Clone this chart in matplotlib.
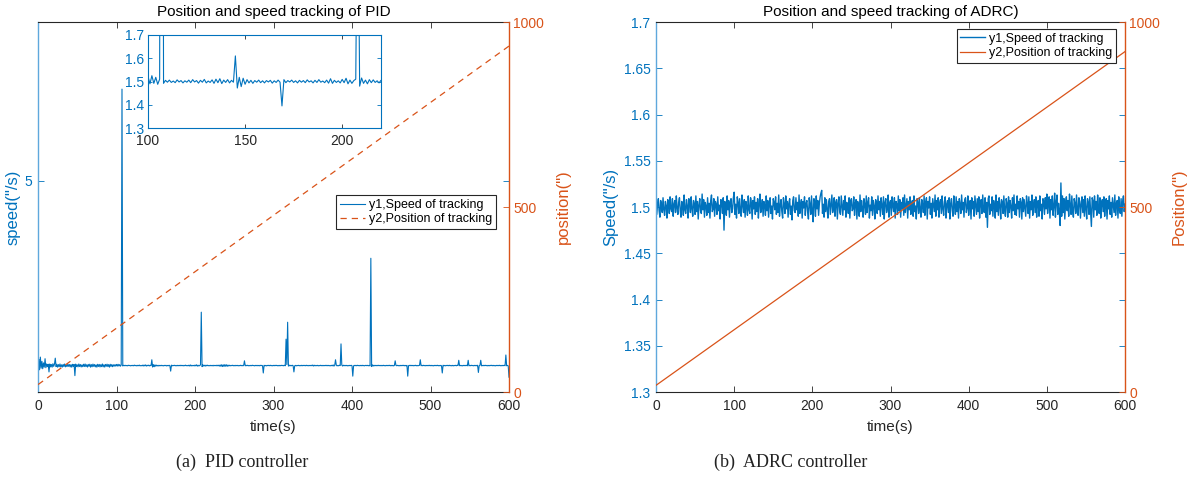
import numpy as np
import matplotlib
matplotlib.use('Agg')
import matplotlib.pyplot as plt

plt.rcParams['font.family'] = ['Liberation Sans', 'DejaVu Sans']

BLUE = '#0072BD'
BLUE_SPINE = '#5FA8DC'
ORANGE = '#D95319'
DARK = '#262626'

# ---------------- data ----------------
time_s = list(range(0, 601))  # 1 s sampling, 0..600 s

# PID speed: deviation from 1.5 "/s in thousandths, t = 0..600
pid_noise_milli = [
    60, 120, -80, 160, -50, 80, -60, 50, -30, 130, -40, 30, -20, 25, -30, 30, -25, 20, -30, 35,
    -15, 28, 20, -20, 25, -30, 18, -22, 30, -26, 15, -28, 22, -18, 30, -24, 12, -20, 26, -15,
    20, -25, 18, -30, 24, -16, 22, -20, 28, -20, 15, -24, 30, -18, 20, -26, 14, -22, 25, -18,
    30, -20, 16, -28, 22, -15, 26, -30, 18, -22, 28, -16, 20, -25, 14, -30, 24, -18, 22, -26,
    18, -20, 30, -24, 16, -28, 22, -14, 26, -20, 18, -30, 24, -16, 20, -22, 15, -12, 18, -10,
    22, -10, 25, -8, 18, -12, 10, 0, -8, 5, -3, 6, -4, 2, -5, 7, -2, 4, -6, 3,
    -3, 6, -5, 8, -2, 4, -7, 5, -3, 9, -6, 2, -4, 7, -8, 10, -5, 12, -9, 6,
    -4, 8, -6, 5, -3, 0, -28, 18, -22, 14, -12, 8, -6, 5, -8, 4, -3, 6, -5, 3,
    -6, 4, -2, 5, -7, 3, -4, 6, -3, 0, 8, -5, 4, -2, 6, -4, 3, -6, 5, -3,
    4, -5, 7, -2, 3, -6, 5, -4, 8, -3, 2, -5, 6, -7, 12, -8, 5, -4, 3, -6,
    9, -5, 14, -10, 6, -8, 4, 10, 0, -20, 15, -8, 6, -10, 8, -5, 7, -4, 3, -6,
    5, -3, 4, -7, 6, -2, 3, -5, 8, -4, 6, -10, 12, -14, 16, -18, 14, -16, 18, -12,
    15, -14, 10, -8, 6, -5, 4, -3, 7, -4, 3, -6, 5, -2, 4, -6, 3, -4, 6, -3,
    4, -5, 3, 0, -4, 5, -3, 6, -4, 2, -5, 4, -3, 7, -2, 3, -6, 4, -3, 5,
    -4, 3, -5, 6, -2, 4, -3, 0, 5, -4, 3, -6, 4, -2, 5, -3, 6, -4, 3, -5,
    4, -3, 6, -2, 5, -4, 3, -6, 4, -3, 5, -2, 4, -5, 6, -3, 0, 20, 0, -10,
    8, -6, 5, -4, 6, -3, 0, -5, 4, -6, 3, -2, 5, -4, 3, -5, 6, -3, 4, -2,
    5, -4, 6, -3, 4, -5, 3, -2, 6, -4, 10, -8, 6, -5, 4, -3, 5, -6, 3, -4,
    6, -3, 4, -5, 3, -2, 5, -4, 6, -3, 4, -5, 3, -6, 5, -4, 12, -10, 6, 0,
    8, -6, 4, -5, 6, 0, -14, 10, -8, 6, -4, 5, -3, 4, -6, 3, -5, 4, -2, 5,
    -3, 0, -6, 4, -3, 5, -4, 6, -2, 3, -5, 4, -3, 6, -4, 3, -5, 2, 4, -3,
    5, -4, 3, -6, 0, -18, 12, -8, 6, -5, 4, -3, 5, -4, 6, -2, 3, -5, 4, -3,
    6, -4, 3, -5, 4, -2, 5, -3, 6, -4, 3, -5, 4, -6, 3, 0, 4, -3, 5, -4,
    3, -6, 4, -2, 5, -3, 6, -4, 3, -5, 4, 0, -3, 5, -4, 6, -2, 3, -5, 4,
    -3, 6, -4, 3, -5, 2, 4, 0, -3, 5, -4, 6, -3, 4, -5, 3, -2, 5, -4, 6,
    -3, 4, -5, 3, -6, 4, -2, 5, -3, 6, -4, 3, -5, 4, -3, 0, 6, -4, 3, -5,
    4, -2, 5, -3, 6, -4, 3, -5, 4, -6, 3, -2, 5, -4, 6, 0, 0, -3, 4, -5,
    3, -6, 4, -2, 5, -3, 6, -4, 0, -5, 4, -3, 6, -2, 3, -5, 4, -3, 5, -4,
    6, 0, -3, 4, 0, -5, 3, -4, 6, -2, 5, -3, 4, -6, 3, -4, 5, -2, 6, -3,
    4, -5, 3, -6, 4, -2, 5, -3, 6, -4, 3, -5, 4, -2, 6, -3, 0, -4, 3, -5,
    0,
]
# PID speed spikes: time (s) and value ("/s)
pid_spike_t = [14, 22, 47, 107, 145, 169, 208, 263, 287, 316, 318, 326, 379, 386,
               401, 424, 455, 471, 487, 515, 536, 548, 561, 564, 596, 600]
pid_spike_v = [1.38, 1.64, 1.31, 6.73, 1.61, 1.395, 2.51, 1.59, 1.36, 2.00, 2.32, 1.38, 1.61, 1.91,
               1.30, 3.53, 1.59, 1.30, 1.61, 1.36, 1.60, 1.60, 1.37, 1.60, 1.70, 1.28]
# PID position (")
pid_pos_t = [0, 600]
pid_pos_v = [20, 935]

# ADRC speed: deviation from 1.5 "/s in thousandths, t = 0..600
adrc_noise_milli = [
    5, -8, 3, 9, -4, -11, 7, 2, -6, 10, -3, -9, 6, 1, -12, 8, 4, -7, 11, -2,
    -5, 9, -10, 3, 7, -6, 12, -1, -8, 5, 10, -4, -11, 6, 2, -9, 13, -3, -7, 8,
    1, -12, 9, 4, -6, 11, -2, -10, 7, 3, -8, 12, -5, 6, -13, 2, 9, -4, -7, 14,
    -3, 8, -11, 5, 1, -9, 10, -6, 4, -12, 7, 13, -5, -2, 9, -10, 6, 3, -8, 11,
    -4, 2, -13, 8, 5, -7, 10, -25, 6, 1, -9, 12, -3, 7, -11, 4, 9, -6, -2, 10,
    16, -8, 3, -12, 11, 5, -7, 9, -4, -10, 13, 2, -6, 8, -11, 6, 1, -9, 12, -3,
    -7, 10, 4, -13, 7, -2, 11, -8, 5, -5, 9, -12, 3, 14, -6, -1, 8, -10, 6, 2,
    -9, 12, -4, 7, -11, 3, 10, -7, 1, -13, 9, 5, -3, 11, -8, 4, -6, 13, -10, 2,
    8, -5, -12, 10, 3, -7, 12, -2, 6, -11, 4, 9, -8, 1, -14, 7, 11, -4, -6, 10,
    -3, 5, -10, 13, -7, 2, 8, -12, 6, -1, 11, -9, 4, 7, -5, -13, 10, 3, -8, 12,
    -4, -16, 9, 6, -10, 12, -2, 7, -9, 4, 11, 15, 18, -7, 3, -11, 10, -5, 8, -3,
    -12, 6, 9, -8, 2, 13, -6, -1, 10, -10, 5, 8, -13, 4, 11, -5, -8, 12, 1, -9,
    7, -3, 12, -11, 5, 3, -7, 10, -12, 6, 9, -4, -2, 11, -9, 4, 8, -13, 6, 2,
    -10, 13, -5, 7, -1, -11, 9, 3, -8, 12, -6, 5, 10, -12, 2, -4, 11, -9, 7, 1,
    -13, 8, 4, -7, 12, -3, 6, -10, 10, 2, -8, 11, -13, 5, 9, -6, -2, 13, -11, 4,
    7, -9, 11, 1, -5, 10, -12, 6, 3, -8, 12, -4, 8, -11, 5, -2, 10, -9, 13, -6,
    2, 9, -12, 6, -3, 11, -8, 4, 7, -10, 12, -5, 1, -13, 9, 5, -7, 10, -2, -11,
    8, 3, -6, 12, -9, 5, 10, -13, 6, -1, 11, -8, 4, -12, 9, 2, -5, 13, -10, 7,
    -3, 10, -11, 5, 8, -7, 12, -2, -9, 6, 11, -12, 3, 7, -6, 10, -13, 4, 9, -4,
    -10, 12, 1, -8, 11, -5, 6, -12, 9, 3, -7, 13, -3, 5, -11, 8, 10, -6, -1, 12,
    -9, 4, 7, -13, 10, -2, 6, -10, 12, 2, -8, 9, -5, 11, -12, 4, 8, -7, 13, -3,
    -6, 10, -11, 5, -22, 9, 12, -8, 3, -4, 11, -10, 7, 1, -12, 13, -5, 6, -9, 10,
    2, -13, 8, 5, -7, 12, -3, -10, 9, 4, -11, 11, -6, 7, 1, -12, 10, -4, 13, -8,
    3, -9, 12, -2, 6, -11, 9, 5, -13, 10, -5, 8, -1, -10, 12, 4, -7, 11, -12, 6,
    -3, 13, -9, 2, 8, -6, 11, -11, 5, 7, -10, 12, -4, 3, -13, 9, 6, -8, 10, -2,
    14, -7, 4, 11, -12, 8, -3, 12, -9, 1, 15, -11, 6, 13, -8, 4, -5, -20, 26, -10,
    12, -6, 9, -13, 5, 11, -4, 7, -10, 14, 2, -8, 12, -5, -11, 9, 4, -7, 13, -3,
    -9, 10, 6, -12, 3, 11, -6, 8, -10, 12, -2, -13, 9, 5, -8, 11, -4, -21, 10, 7,
    -11, 12, -3, 6, -9, 13, 1, -7, 10, -12, 4, 8, -5, 11, -10, 3, 9, -13, 7, -2,
    12, -8, 5, -11, 10, 2, -6, 13, -9, 4, 7, -12, 11, -3, -7, 9, -10, 6, 12, -5,
    3,
]
adrc_pos_t = [0, 600]
adrc_pos_v = [18, 920]

x_ticks = [0, 100, 200, 300, 400, 500, 600]
pid_speed_ticks = [5]
pos_ticks = [0, 500, 1000]
adrc_speed_ticks = [1.3, 1.35, 1.4, 1.45, 1.5, 1.55, 1.6, 1.65, 1.7]
adrc_speed_ticklabels = ['1.3', '1.35', '1.4', '1.45', '1.5', '1.55', '1.6', '1.65', '1.7']
inset_yticks = [1.3, 1.4, 1.5, 1.6, 1.7]
inset_xticks = [100, 150, 200]

# ---------------- build series ----------------
t = np.array(time_s, dtype=float)
pid_speed = 1.5 + np.array(pid_noise_milli, dtype=float) / 1000.0
for ts, vs in zip(pid_spike_t, pid_spike_v):
    pid_speed[ts] = vs
adrc_speed = 1.5 + np.array(adrc_noise_milli, dtype=float) / 1000.0

# ---------------- figure ----------------
fig = plt.figure(figsize=(11.93, 4.78), dpi=100)
axL = fig.add_axes([38 / 1193, 1 - 392 / 478, 471 / 1193, 370 / 478])
axR = fig.add_axes([656 / 1193, 1 - 392 / 478, 469 / 1193, 370 / 478])

TICK_FS = 10
LABEL_FS = 11
YLABEL_FS = 12


def style_main(ax, ax2, ylim, yticks, yticklabels, ylabel, ylabel2, ylx, y2lx, title):
    ax.set_xlim(0, 600)
    ax.set_ylim(*ylim)
    ax.set_xticks(x_ticks)
    ax.set_yticks(yticks)
    ax.set_yticklabels(yticklabels)
    ax.tick_params(axis='x', direction='in', top=True, bottom=True, length=4, width=0.6,
                   color=DARK, labelcolor=DARK, labelsize=TICK_FS, pad=5)
    ax.tick_params(axis='y', direction='in', left=True, right=True, labelright=False,
                   length=4, width=0.6, color=BLUE, labelcolor=BLUE, labelsize=TICK_FS, pad=4)
    for s in ('top', 'bottom'):
        ax.spines[s].set_color(DARK)
        ax.spines[s].set_linewidth(0.8)
    ax.spines['left'].set_color(BLUE_SPINE)
    ax.spines['left'].set_linewidth(1.0)
    ax.spines['right'].set_visible(False)
    ax.set_ylabel(ylabel, color=BLUE, fontsize=YLABEL_FS)
    ax.yaxis.set_label_coords(ylx, 0.5)
    ax.set_xlabel('time(s)', color=DARK, fontsize=LABEL_FS)
    ax.xaxis.set_label_coords(0.5, -0.075)
    ax.set_title(title, fontsize=LABEL_FS, color='black', pad=4)

    ax2.set_ylim(0, 1000)
    ax2.set_yticks(pos_ticks)
    ax2.tick_params(axis='y', direction='in', right=True, left=False, length=4, width=0.6,
                    color=ORANGE, labelcolor=ORANGE, labelsize=TICK_FS, pad=3)
    for s in ('left', 'top', 'bottom'):
        ax2.spines[s].set_visible(False)
    ax2.spines['right'].set_color(ORANGE)
    ax2.spines['right'].set_linewidth(1.0)
    ax2.set_ylabel(ylabel2, color=ORANGE, fontsize=YLABEL_FS, rotation=90)
    ax2.yaxis.set_label_coords(y2lx, 0.5)


# ---- PID panel ----
axL2 = axL.twinx()
hL1, = axL.plot(t, pid_speed, color=BLUE, lw=0.8)
hL2, = axL2.plot(pid_pos_t, pid_pos_v, color=ORANGE, lw=0.9, linestyle=(0, (5, 4)))
style_main(axL, axL2, (1, 8), pid_speed_ticks, ['5'], 'speed("/s)', 'position(")',
           -0.036, 1.10, 'Position and speed tracking of PID')
legL = axL2.legend([hL1, hL2], ['y1,Speed of tracking', 'y2,Position of tracking'],
                   loc='upper right', bbox_to_anchor=(0.972, 0.532), borderaxespad=0,
                   fontsize=9, fancybox=False, framealpha=1, edgecolor=DARK,
                   borderpad=0.3, labelspacing=0.2, handlelength=2.0, handletextpad=0.3)
legL.get_frame().set_linewidth(0.8)

# inset
axI = fig.add_axes([148 / 1193, 1 - 128 / 478, 233 / 1193, 93 / 478])
axI.plot(t, pid_speed, color=BLUE, lw=0.8)
axI.set_xlim(100, 220)
axI.set_ylim(1.3, 1.7)
axI.set_xticks(inset_xticks)
axI.set_yticks(inset_yticks)
axI.set_yticklabels(['1.3', '1.4', '1.5', '1.6', '1.7'])
axI.tick_params(axis='x', direction='in', top=True, bottom=True, length=3, width=0.6,
                color=DARK, labelcolor=DARK, labelsize=TICK_FS, pad=4)
axI.tick_params(axis='y', direction='in', left=True, right=True, length=3, width=0.6,
                color=BLUE, labelcolor=BLUE, labelsize=TICK_FS, pad=3)
for s in axI.spines.values():
    s.set_color(BLUE)
    s.set_linewidth(0.8)

# ---- ADRC panel ----
axR2 = axR.twinx()
hR1, = axR.plot(t, adrc_speed, color=BLUE, lw=1.0)
hR2, = axR2.plot(adrc_pos_t, adrc_pos_v, color=ORANGE, lw=0.9)
style_main(axR, axR2, (1.3, 1.7), adrc_speed_ticks, adrc_speed_ticklabels,
           'Speed("/s)', 'Position(")', -0.081, 1.10, 'Position and speed tracking of ADRC)')
legR = axR2.legend([hR1, hR2], ['y1,Speed of tracking', 'y2,Position of tracking'],
                   loc='upper right', bbox_to_anchor=(0.981, 0.981), borderaxespad=0,
                   fontsize=9, fancybox=False, framealpha=1, edgecolor=DARK,
                   borderpad=0.3, labelspacing=0.2, handlelength=2.0, handletextpad=0.3)
legR.get_frame().set_linewidth(0.8)

# captions
fig.text(242 / 1193, 1 - 462 / 478, '(a)  PID controller', ha='center', va='center',
         fontsize=13, family=['Liberation Serif', 'DejaVu Serif'], color='#222222')
fig.text(791 / 1193, 1 - 462 / 478, '(b)  ADRC controller', ha='center', va='center',
         fontsize=13, family=['Liberation Serif', 'DejaVu Serif'], color='#222222')

fig.savefig('out.png', dpi=100, facecolor='white')
